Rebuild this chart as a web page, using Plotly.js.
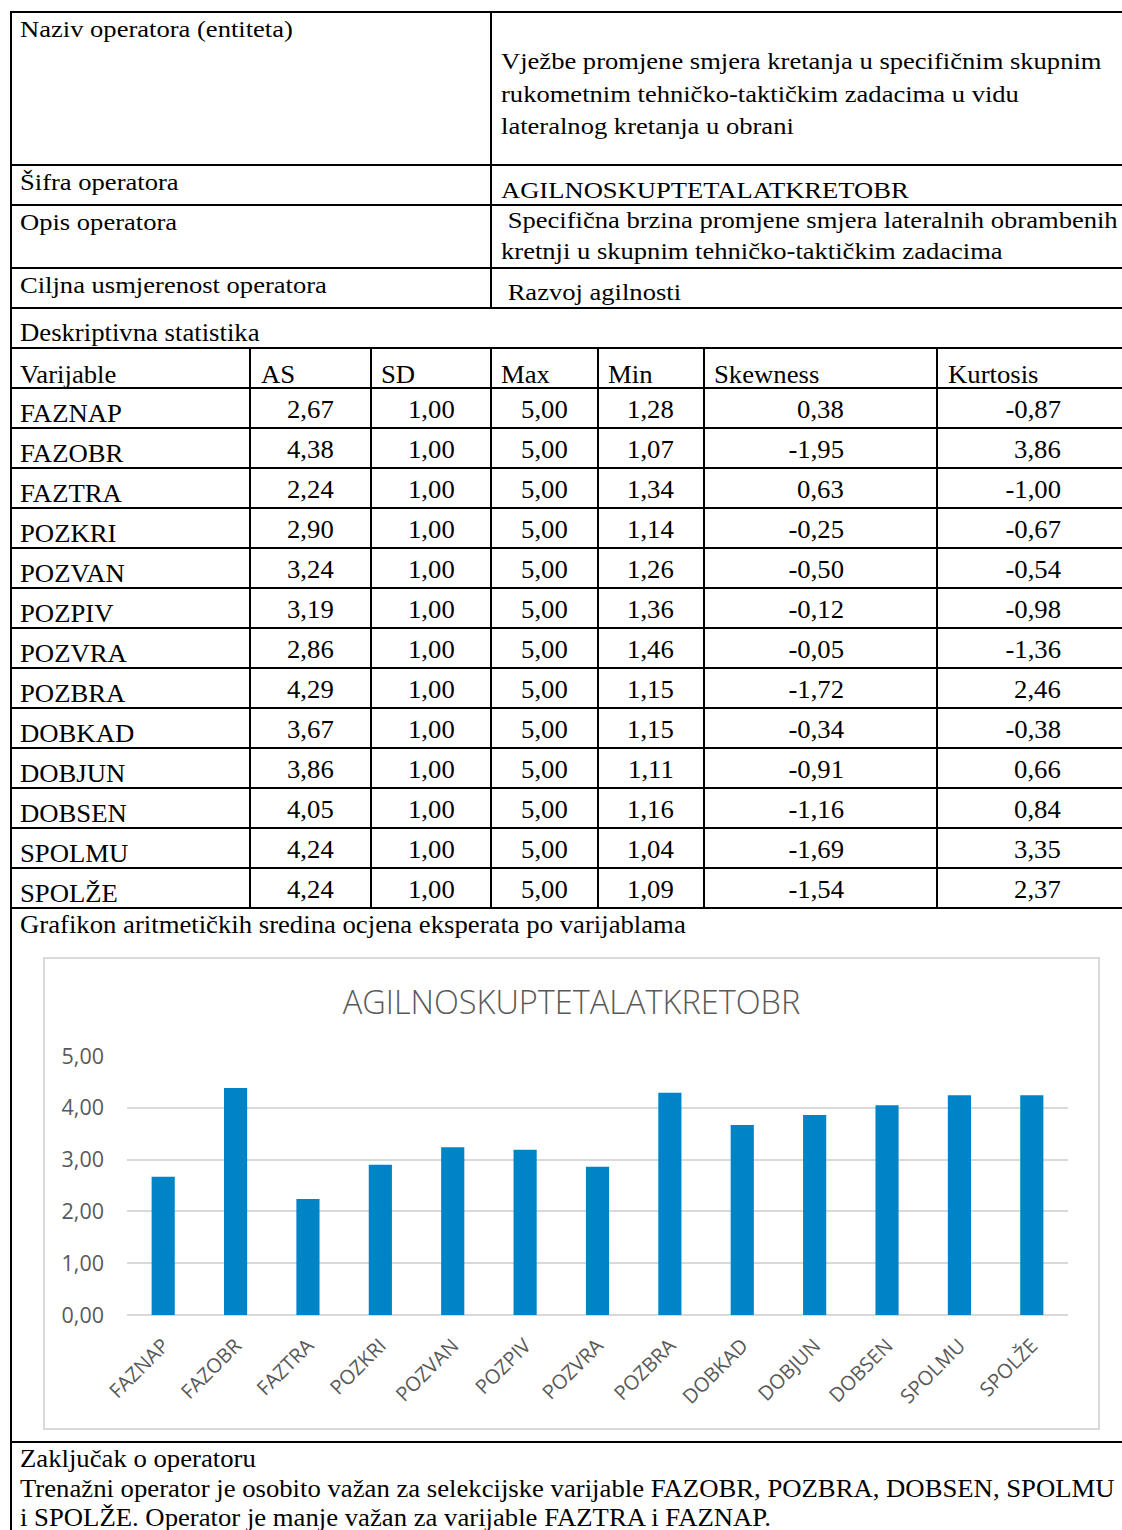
<!DOCTYPE html>
<html>
<head>
<meta charset="utf-8">
<script src="https://cdn.plot.ly/plotly-3.0.1.min.js"></script>
<style>
  html, body { margin:0; padding:0; background:#ffffff; }
  #page { position:relative; width:1122px; height:1530px; overflow:hidden; background:#ffffff; }
  .t { position:absolute; white-space:pre; font-family:'Liberation Serif','Times New Roman',serif; color:#000; }
  .ln { position:absolute; background:#000; }
  #chartbox { position:absolute; left:43px; top:957px; width:1053px; height:469px; border:2px solid #d9d9d9; }
  #chart { position:absolute; left:0; top:0; width:1053px; height:469px; }
</style>
</head>
<body>
<div id="page">
  <div id="chartbox"><div id="chart"></div></div>
</div>
<script>
// ---------- DATA ----------
const infoLabels = ['Naziv operatora (entiteta)', 'Šifra operatora', 'Opis operatora', 'Ciljna usmjerenost operatora'];
const operatorName = ['Vježbe promjene smjera kretanja u specifičnim skupnim', 'rukometnim tehničko-taktičkim zadacima u vidu', 'lateralnog kretanja u obrani'];
const operatorCode = 'AGILNOSKUPTETALATKRETOBR';
const operatorDesc = [' Specifična brzina promjene smjera lateralnih obrambenih', 'kretnji u skupnim tehničko-taktičkim zadacima'];
const operatorGoal = ' Razvoj agilnosti';
const sectionStats = 'Deskriptivna statistika';
const statHeaders = ['Varijable', 'AS', 'SD', 'Max', 'Min', 'Skewness', 'Kurtosis'];
const variables = ['FAZNAP','FAZOBR','FAZTRA','POZKRI','POZVAN','POZPIV','POZVRA','POZBRA','DOBKAD','DOBJUN','DOBSEN','SPOLMU','SPOLŽE'];
const AS   = [2.67, 4.38, 2.24, 2.90, 3.24, 3.19, 2.86, 4.29, 3.67, 3.86, 4.05, 4.24, 4.24];
const SD   = [1.00, 1.00, 1.00, 1.00, 1.00, 1.00, 1.00, 1.00, 1.00, 1.00, 1.00, 1.00, 1.00];
const MAX  = [5.00, 5.00, 5.00, 5.00, 5.00, 5.00, 5.00, 5.00, 5.00, 5.00, 5.00, 5.00, 5.00];
const MIN  = [1.28, 1.07, 1.34, 1.14, 1.26, 1.36, 1.46, 1.15, 1.15, 1.11, 1.16, 1.04, 1.09];
const SKEW = [0.38, -1.95, 0.63, -0.25, -0.50, -0.12, -0.05, -1.72, -0.34, -0.91, -1.16, -1.69, -1.54];
const KURT = [-0.87, 3.86, -1.00, -0.67, -0.54, -0.98, -1.36, 2.46, -0.38, 0.66, 0.84, 3.35, 2.37];
const sectionChart = 'Grafikon aritmetičkih sredina ocjena eksperata po varijablama';
const chartTitle = 'AGILNOSKUPTETALATKRETOBR';
const sectionConclusion = 'Zaključak o operatoru';
const conclusionLines = ['Trenažni operator je osobito važan za selekcijske varijable FAZOBR, POZBRA, DOBSEN, SPOLMU', 'i SPOLŽE. Operator je manje važan za varijable FAZTRA i FAZNAP.'];

// ---------- DOCUMENT LAYOUT ----------
const page = document.getElementById('page');
const W = 1122;
function txt(str, x, baseline, size, sx, align) {
  const d = document.createElement('div');
  d.className = 't';
  d.textContent = str;
  const L = size * 1.2;
  const top = baseline - ((L - 1.107 * size) / 2 + 0.891 * size);
  d.style.fontSize = size + 'px';
  d.style.lineHeight = L + 'px';
  d.style.top = top + 'px';
  if (align === 'right') {
    d.style.right = (W - x) + 'px';
    d.style.transformOrigin = 'right center';
  } else {
    d.style.left = x + 'px';
    d.style.transformOrigin = 'left center';
  }
  d.style.transform = 'scaleX(' + sx + ')';
  page.appendChild(d);
}
function hline(y, x1, x2) {
  const d = document.createElement('div'); d.className = 'ln';
  d.style.left = x1 + 'px'; d.style.top = (y - 1) + 'px'; d.style.width = (x2 - x1) + 'px'; d.style.height = '2px';
  page.appendChild(d);
}
function vline(x, y1, y2) {
  const d = document.createElement('div'); d.className = 'ln';
  d.style.left = (x - 1) + 'px'; d.style.top = y1 + 'px'; d.style.width = '2px'; d.style.height = (y2 - y1) + 'px';
  page.appendChild(d);
}
const fmt = v => v.toFixed(2).replace('.', ',');

// frame
const L0 = 11;
[12, 165, 205, 268, 308, 348].forEach(y => hline(y, L0 - 1, W));
vline(L0, 11, 1530);
vline(491, 12, 308);

// top info section (text appears horizontally stretched)
const tS = 23, tX = 1.155;
txt(infoLabels[0], 20, 38, tS, tX);
txt(infoLabels[1], 20, 191, tS, tX);
txt(infoLabels[2], 20, 231, tS, tX);
txt(infoLabels[3], 20, 294, tS, tX);
operatorName.forEach((s, i) => txt(s, 501, 70 + i * 32.5, tS, tX));
txt(operatorCode, 501, 199, tS, tX);
operatorDesc.forEach((s, i) => txt(s, 501, 229 + i * 31, tS, tX));
txt(operatorGoal, 501, 301, tS, tX);

// statistics table
const sS = 25, sX = 1.068;
txt(sectionStats, 20, 341, sS, sX);
const rowTop = 348, rowH = 40;
const colX = [11, 250, 371, 491, 598, 704, 937];
const numRight = [334, 455, 568, 674, 844, 1061];
const headLeft = [20, 261, 381, 501, 608, 714, 948];
for (let r = 0; r <= variables.length + 1; r++) hline(rowTop + r * rowH, L0 - 1, W);
const tableBottom = rowTop + (variables.length + 1) * rowH;
colX.slice(1).forEach(x => vline(x, rowTop, tableBottom));
statHeaders.forEach((h, i) => txt(h, headLeft[i], rowTop + 35, sS, sX));
const cols = [AS, SD, MAX, MIN, SKEW, KURT];
variables.forEach((v, r) => {
  const y0 = rowTop + (r + 1) * rowH;
  txt(v, 20, y0 + 34, sS, sX);
  cols.forEach((c, ci) => txt(fmt(c[r]), numRight[ci], y0 + 30, sS, sX, 'right'));
});

// chart section
txt(sectionChart, 20, 933, sS, sX);
hline(1442, L0 - 1, W);
txt(sectionConclusion, 20, 1467, sS, sX);
conclusionLines.forEach((s, i) => txt(s, 20, 1497 + i * 29, sS, sX));

// ---------- CHART ----------
const trace = {
  type: 'bar',
  x: variables,
  y: AS,
  marker: { color: '#0084c8', line: { width: 0 } },
  hoverinfo: 'x+y'
};
const chartFont = 'Open Sans, Noto Sans, sans-serif';
const layout = {
  width: 1053, height: 469,
  margin: { l: 82, r: 30, t: 97, b: 113, pad: 0 },
  paper_bgcolor: '#ffffff', plot_bgcolor: '#ffffff',
  separators: ', ',
  showlegend: false,
  bargap: 0.68,
  title: {
    text: chartTitle,
    font: { family: chartFont, size: 32.5, color: '#595959', weight: 300 },
    x: 0.5, xref: 'container', xanchor: 'center',
    y: 1 - 44 / 469, yref: 'container', yanchor: 'middle'
  },
  xaxis: {
    type: 'category',
    tickangle: -45,
    tickfont: { family: chartFont, size: 20, color: '#595959' },
    showline: false, showgrid: false, zeroline: false, ticks: '',
    ticklabelstandoff: 14
  },
  yaxis: {
    range: [0, 5], dtick: 1, tick0: 0, tickformat: '.2f',
    tickfont: { family: chartFont, size: 21.5, color: '#595959' },
    showgrid: true, gridcolor: '#d9d9d9', gridwidth: 2,
    zeroline: true, zerolinecolor: '#d9d9d9', zerolinewidth: 2,
    showline: false, ticks: '',
    ticklabelstandoff: 22
  }
};
Plotly.newPlot('chart', [trace], layout, { displayModeBar: false, staticPlot: true });
</script>
</body>
</html>
